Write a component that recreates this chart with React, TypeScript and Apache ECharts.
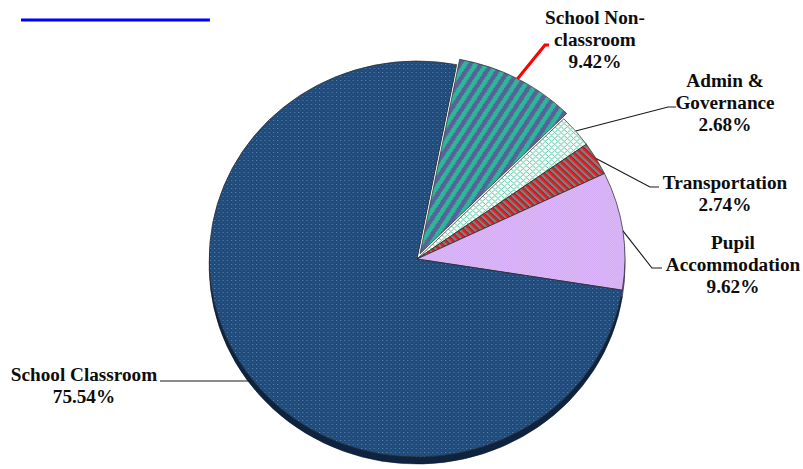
import React, { useEffect, useRef } from 'react';
import * as echarts from 'echarts';

// ---- data ----
const categories = ['School Non-classroom', 'Admin & Governance', 'Transportation', 'Pupil Accommodation', 'School Classroom'];
const labelNames = ['School Non-\nclassroom', 'Admin &\nGovernance', 'Transportation', 'Pupil\nAccommodation', 'School Classroom'];
const shares = [9.42, 2.68, 2.74, 9.62, 75.54];
const explodedIndex = 0;

// ---- layout (logical units; the whole chart is stretched horizontally) ----
const W = 765;
const H = 469;
const SX = 803 / W;
const CX = 397.3;
const CY = 259;
const R = 198;
const DEPTH = 7;
const EXPLODE = 6;
const START = 79;
const labelAnchors: number[][] = [[566.8, 40], [690.7, 103], [690.7, 194], [698.3, 265], [80, 386]];
const leaderTails: number[][][] = [
  [[519.2, 45], [523, 45]],
  [[636.4, 107], [644, 107]],
  [[619.2, 187], [627.8, 187]],
  [[621.1, 268], [630.7, 268]],
  [],
];
const classroomLineY = 381;
const classroomLineEnd = 152.4;
const LINE_COLOR = '#1a1a1a';

function makePattern(w: number, h: number, colorAt: (x: number, y: number) => string) {
  const c = document.createElement('canvas');
  c.width = w;
  c.height = h;
  const ctx = c.getContext('2d')!;
  for (let y = 0; y < h; y++) {
    for (let x = 0; x < w; x++) {
      ctx.fillStyle = colorAt(x, y);
      ctx.fillRect(x, y, 1, 1);
    }
  }
  return { image: c.toDataURL(), imageWidth: w, imageHeight: h, repeat: 'repeat' };
}

const CLEAR = 'rgba(0,0,0,0)';

export default function App() {
  const ref = useRef<HTMLDivElement>(null);
  useEffect(() => {
    if (!ref.current) return;
    const chart = echarts.init(ref.current, null, { renderer: 'svg' });

    const patNon = makePattern(10, 16, (x, y) => ((x / 10 + y / 16) % 1 < 0.5 ? '#2bb89a' : '#5a6198'));
    const patAdmin = makePattern(6, 6, (x, y) => (((x + y) % 6 === 0) || (((x - y) % 6 + 6) % 6 === 0) ? '#55cba6' : '#f7fbf9'));
    const patTrans = makePattern(7, 7, (x, y) => {
      const d = (((x - y) % 7) + 7) % 7;
      if (d < 3) return '#ec1c24';
      if (d === 3) return '#5b3434';
      return '#808080';
    });
    const patPupil = makePattern(4, 4, (x, y) => ((x + y) % 2 === 0 ? '#cfa5f3' : '#e0befb'));
    const patClass = makePattern(4, 4, (x, y) => {
      if (x === 0 && y === 0) return '#5d84b1';
      if (x === 2 && y === 2) return '#345f8e';
      return '#1f4b7b';
    });
    const patterns = [patNon, patAdmin, patTrans, patPupil, patClass];
    const depthColors = ['#1c6b5c', '#8fb0a8', '#7a1c1c', '#8a62b0', '#0e2340'];

    const total = shares.reduce((a, b) => a + b, 0);
    const before = shares.slice(0, explodedIndex).reduce((a, b) => a + b, 0);
    const midDeg = START - ((before + shares[explodedIndex] / 2) / total) * 360;
    const midRad = (midDeg * Math.PI) / 180;
    const ex = Math.cos(midRad) * EXPLODE;
    const ey = -Math.sin(midRad) * EXPLODE;
    const ax = CX + ex + R * Math.cos(midRad);
    const ay = CY + ey - R * Math.sin(midRad);

    const mainData = categories.map((name, i) => ({
      name,
      value: shares[i],
      itemStyle:
        i === explodedIndex
          ? { color: '#ffffff', borderWidth: 0 }
          : { color: patterns[i] as any },
    }));
    const depthData = categories.map((name, i) => ({
      name,
      value: shares[i],
      itemStyle: { color: i === explodedIndex ? CLEAR : depthColors[i], borderWidth: i === explodedIndex ? 0 : 0.6 },
    }));
    const explodedData = [
      { name: categories[explodedIndex], value: shares[explodedIndex], itemStyle: { color: patterns[explodedIndex] as any } },
      { name: 'rest', value: total - shares[explodedIndex], itemStyle: { color: CLEAR, borderWidth: 0 } },
    ];

    chart.setOption({
      animation: false,
      backgroundColor: '#ffffff',
      graphic: {
        elements: [
          {
            type: 'polyline',
            z: 100,
            silent: true,
            shape: { points: [[ax, ay], leaderTails[explodedIndex][0], leaderTails[explodedIndex][1]] },
            style: { stroke: '#ff0000', lineWidth: 3, fill: null },
          },
          {
            type: 'line',
            z: 100,
            silent: true,
            shape: { x1: 20, y1: 20, x2: 200, y2: 20 },
            style: { stroke: '#0000ff', lineWidth: 3 },
          },
        ],
      },
      series: [
        {
          type: 'pie',
          z: 1,
          silent: true,
          center: [CX, CY + DEPTH],
          radius: [0, R],
          startAngle: START,
          clockwise: true,
          label: { show: false },
          labelLine: { show: false },
          itemStyle: { borderColor: '#0b1a2e', borderWidth: 0.6 },
          emphasis: { disabled: true },
          data: depthData,
        },
        {
          type: 'pie',
          z: 3,
          silent: true,
          center: [CX + ex, CY + ey],
          radius: [0, R],
          startAngle: START,
          clockwise: true,
          label: { show: false },
          labelLine: { show: false },
          itemStyle: { borderColor: '#2a2a2a', borderWidth: 0.7 },
          emphasis: { disabled: true },
          data: explodedData,
        },
        {
          type: 'pie',
          z: 2,
          center: [CX, CY],
          radius: [0, R],
          startAngle: START,
          clockwise: true,
          itemStyle: { borderColor: '#2a2a2a', borderWidth: 0.7 },
          emphasis: { disabled: true },
          label: {
            show: true,
            position: 'outside',
            overflow: 'none',
            color: '#0d0d0d',
            fontFamily: '"Liberation Serif", "Times New Roman", serif',
            fontWeight: 'bold',
            fontSize: 18.3,
            lineHeight: 22,
            align: 'center',
            formatter: (p: any) => `${labelNames[p.dataIndex]}\n${shares[p.dataIndex].toFixed(2)}%`,
          },
          labelLine: { show: true, smooth: false, lineStyle: { color: LINE_COLOR, width: 1.1 } },
          labelLayout: (params: any) => {
            const i = params.dataIndex;
            const [lx, ly] = labelAnchors[i];
            let pts: number[][];
            if (i === 4) {
              const dy = classroomLineY - CY;
              const edgeX = CX - Math.sqrt(R * R - dy * dy) + 2;
              pts = [[edgeX, classroomLineY], [(edgeX + classroomLineEnd) / 2, classroomLineY], [classroomLineEnd, classroomLineY]];
            } else if (i === explodedIndex) {
              pts = [[ax, ay], leaderTails[i][0], leaderTails[i][1]];
            } else {
              const p0 = params.labelLinePoints ? params.labelLinePoints[0] : [CX, CY];
              pts = [p0, leaderTails[i][0], leaderTails[i][1]];
            }
            return { x: lx, y: ly, align: 'center', verticalAlign: 'middle', labelLinePoints: pts };
          },
          data: mainData,
        },
      ],
    });
    return () => chart.dispose();
  }, []);

  return (
    <div
      ref={ref}
      style={{
        position: 'fixed',
        left: 0,
        top: 0,
        width: W,
        height: H,
        transform: `scaleX(${SX})`,
        transformOrigin: '0 0',
        background: '#fff',
      }}
    />
  );
}
